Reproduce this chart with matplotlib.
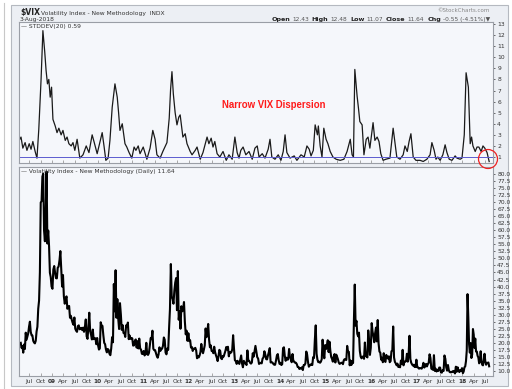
import numpy as np
import matplotlib
matplotlib.use('Agg')
import matplotlib.pyplot as plt
from matplotlib.patches import Rectangle, Ellipse

# weekly VIX closes, one list per year
vix_2008 = [20.0, 18.2, 18.9, 16.5, 19.4, 17.8, 23.6, 21.1, 22.2, 23.4, 25.8, 27.5, 23.9,
            22.7, 22.6, 20.7, 20.1, 19.8, 20.7, 24.0, 25.7, 32.1, 35.0, 45.1, 69.9, 70.3,
            79.1, 80.1, 59.9, 56.1, 66.3, 80.9, 55.3, 59.9, 54.3, 44.9, 43.4, 40.0]
vix_2009 = [39.2, 46.1, 47.3, 44.8, 43.0, 42.9, 46.7, 47.1, 49.3, 52.6, 45.9, 40.0, 44.1,
            36.5, 33.9, 35.3, 36.5, 32.1, 32.6, 33.1, 28.9, 29.6, 28.2, 27.1, 26.4, 29.0,
            25.0, 24.3, 23.9, 25.9, 26.2, 24.8, 25.0, 25.3, 24.5, 25.4, 23.9, 25.6, 28.3,
            22.3, 21.4, 25.7, 30.7, 24.2, 22.9, 21.2, 24.7, 21.3, 21.6, 21.6, 19.5, 21.7]
vix_2010 = [19.1, 17.6, 18.0, 27.3, 26.1, 26.0, 22.7, 20.0, 19.5, 17.6, 16.6, 17.8, 17.5,
            16.1, 15.6, 18.0, 22.0, 20.2, 40.9, 31.2, 45.8, 28.9, 35.5, 28.6, 24.9, 34.1,
            30.1, 24.6, 26.3, 23.5, 23.5, 22.1, 26.2, 25.7, 27.2, 21.3, 22.6, 21.4, 21.7,
            21.6, 19.0, 19.1, 20.7, 21.2, 18.3, 20.6, 18.0, 21.5, 18.0, 17.6, 16.1, 16.0]
vix_2011 = [17.1, 15.5, 16.1, 20.0, 15.9, 15.7, 16.4, 19.2, 21.7, 21.3, 24.3, 17.9, 17.4,
            17.4, 16.3, 15.3, 14.7, 15.9, 18.4, 17.1, 17.8, 17.9, 18.9, 21.9, 21.1, 16.5,
            15.9, 18.0, 17.5, 25.3, 32.0, 48.0, 36.4, 35.6, 33.9, 38.5, 41.4, 43.0, 31.6,
            45.5, 28.2, 31.3, 25.0, 33.0, 31.2, 32.0, 34.5, 27.5, 23.0, 24.3, 20.7, 23.4]
vix_2012 = [20.6, 20.9, 18.3, 18.5, 17.1, 17.9, 17.9, 18.2, 17.3, 14.5, 15.3, 14.8, 15.5,
            16.7, 19.6, 17.4, 16.3, 17.6, 19.1, 25.1, 22.0, 24.1, 26.7, 21.2, 18.4, 19.1,
            17.1, 17.1, 16.3, 18.6, 16.7, 15.6, 14.7, 13.5, 15.2, 17.5, 17.1, 14.5, 14.2,
            15.3, 15.1, 16.1, 17.1, 18.5, 17.6, 18.6, 15.2, 16.7, 16.4, 16.7, 17.7, 22.7, 18.0]
vix_2013 = [13.8, 13.5, 12.5, 13.6, 12.9, 12.5, 14.1, 15.5, 12.6, 11.3, 13.6, 12.7, 12.9,
            12.1, 17.3, 13.6, 13.6, 12.9, 12.6, 13.0, 16.3, 15.1, 17.1, 18.9, 16.9, 14.9,
            14.4, 12.5, 12.7, 12.9, 12.7, 14.4, 14.8, 17.0, 15.9, 14.2, 14.1, 15.5, 16.7,
            18.1, 13.0, 13.1, 13.0, 12.5, 12.2, 12.2, 13.7, 15.5, 16.0, 13.8, 12.5]
vix_2014 = [12.9, 12.1, 12.4, 18.1, 18.4, 15.3, 13.6, 14.7, 14.0, 14.1, 17.8, 15.0, 14.4,
            13.1, 16.0, 13.4, 13.3, 12.9, 12.9, 12.4, 11.4, 11.4, 10.7, 11.0, 10.9, 11.3,
            10.3, 12.1, 12.1, 12.7, 16.9, 15.8, 13.2, 11.5, 12.0, 12.1, 12.5, 12.1, 14.9,
            14.6, 21.2, 26.2, 16.1, 14.0, 13.1, 13.3, 12.9, 13.3, 14.2, 21.1, 16.5, 14.5, 19.2]
vix_2015 = [17.8, 19.2, 20.9, 16.7, 20.4, 17.3, 15.0, 14.3, 13.3, 15.2, 16.0, 13.0, 15.8,
            15.1, 14.2, 13.0, 12.5, 12.7, 12.9, 12.9, 12.4, 13.8, 14.2, 14.0, 13.9, 18.9,
            16.8, 16.8, 12.0, 13.7, 12.1, 13.4, 12.8, 28.0, 40.7, 26.1, 27.8, 23.2, 22.3,
            23.6, 17.1, 15.1, 14.5, 15.1, 15.0, 14.3, 20.1, 15.5, 15.1, 14.8, 24.4, 20.7,
            15.7, 18.2]
vix_2016 = [27.0, 24.0, 22.3, 20.2, 23.4, 25.4, 20.5, 28.1, 19.8, 16.9, 16.5, 14.0, 14.7,
            13.1, 16.3, 13.6, 13.2, 15.7, 14.7, 14.4, 15.2, 13.1, 13.5, 17.0, 17.3, 25.8,
            14.8, 13.2, 12.7, 12.0, 12.6, 11.4, 11.5, 11.3, 13.7, 12.5, 17.5, 12.0, 13.3,
            13.3, 13.5, 16.1, 13.3, 16.2, 22.5, 14.2, 12.9, 12.3, 11.9, 12.2, 11.4, 11.4, 14.0]
vix_2017 = [11.3, 11.2, 10.8, 11.0, 11.0, 10.8, 11.5, 12.9, 11.2, 11.7, 12.5, 11.6, 12.4,
            12.9, 15.9, 14.6, 10.8, 10.6, 10.4, 15.6, 10.0, 10.8, 9.8, 10.4, 10.0, 11.2,
            11.2, 9.5, 9.4, 10.3, 10.0, 15.5, 14.3, 11.3, 10.1, 12.1, 10.2, 9.6, 9.5,
            9.7, 9.6, 10.0, 9.8, 9.1, 11.5, 9.7, 11.3, 10.2, 9.6, 10.3, 10.0, 11.0]
vix_2018 = [9.2, 9.8, 11.3, 11.6, 13.5, 17.3, 37.3, 29.1, 19.5, 16.5, 19.9, 14.6, 15.8,
            24.9, 22.9, 18.2, 21.5, 16.9, 16.9, 15.4, 14.8, 12.7, 13.4, 17.0, 13.5, 12.2,
            12.0, 13.8, 16.1, 13.4, 12.2, 12.9, 12.8, 13.0, 11.64]
vix_by_year = [vix_2008, vix_2009, vix_2010, vix_2011, vix_2012, vix_2013,
               vix_2014, vix_2015, vix_2016, vix_2017, vix_2018]
first_year = 2008
start_frac = 0.314   # 25-Apr-2008
end_frac = 0.586     # 3-Aug-2018

# STDDEV(20) of the VIX (decimal year, value)
std_years = [2008.28, 2008.32, 2008.36, 2008.41, 2008.45, 2008.50, 2008.54, 2008.58, 2008.63,
             2008.67, 2008.71, 2008.76, 2008.80, 2008.84, 2008.87, 2008.90, 2008.93, 2008.96,
             2008.99, 2009.02, 2009.07, 2009.11, 2009.15, 2009.20, 2009.24, 2009.29, 2009.33,
             2009.37, 2009.42, 2009.46, 2009.50, 2009.55, 2009.59, 2009.61, 2009.68, 2009.75,
             2009.81, 2009.88, 2009.92, 2009.99, 2010.03, 2010.10, 2010.14, 2010.18, 2010.23,
             2010.27, 2010.32, 2010.38, 2010.43, 2010.46, 2010.49, 2010.54, 2010.57, 2010.60,
             2010.64, 2010.69, 2010.75, 2010.80, 2010.84, 2010.89, 2010.93, 2011.00, 2011.08,
             2011.15, 2011.21, 2011.26, 2011.30, 2011.37, 2011.43, 2011.52, 2011.57, 2011.60,
             2011.63, 2011.66, 2011.70, 2011.74, 2011.78, 2011.81, 2011.85, 2011.87, 2011.92,
             2011.96, 2012.03, 2012.07, 2012.14, 2012.18, 2012.25, 2012.31, 2012.40, 2012.44,
             2012.49, 2012.53, 2012.57, 2012.62, 2012.68, 2012.75, 2012.82, 2012.88, 2012.95,
             2013.01, 2013.06, 2013.10, 2013.14, 2013.19, 2013.25, 2013.32, 2013.39, 2013.45,
             2013.50, 2013.54, 2013.61, 2013.67, 2013.74, 2013.78, 2013.82, 2013.89, 2013.96,
             2014.02, 2014.07, 2014.11, 2014.15, 2014.22, 2014.31, 2014.37, 2014.46, 2014.53,
             2014.59, 2014.64, 2014.68, 2014.73, 2014.77, 2014.82, 2014.84, 2014.88, 2014.92,
             2014.96, 2015.01, 2015.05, 2015.10, 2015.16, 2015.23, 2015.32, 2015.40, 2015.47,
             2015.54, 2015.58, 2015.61, 2015.64, 2015.69, 2015.72, 2015.75, 2015.80, 2015.84,
             2015.89, 2015.93, 2015.97, 2016.04, 2016.08, 2016.13, 2016.17, 2016.21, 2016.26,
             2016.32, 2016.41, 2016.48, 2016.52, 2016.56, 2016.63, 2016.70, 2016.74, 2016.79,
             2016.83, 2016.87, 2016.92, 2016.98, 2017.07, 2017.14, 2017.22, 2017.29, 2017.33,
             2017.38, 2017.42, 2017.46, 2017.51, 2017.57, 2017.62, 2017.66, 2017.71, 2017.77,
             2017.84, 2017.88, 2017.95, 2017.99, 2018.04, 2018.08, 2018.13, 2018.17, 2018.20,
             2018.23, 2018.28, 2018.32, 2018.36, 2018.41, 2018.45, 2018.49, 2018.54, 2018.586]
std_vals = [2.5, 2.8, 1.8, 2.3, 1.6, 2.2, 1.7, 2.4, 1.5,
            0.9, 3.5, 8.0, 12.4, 10.5, 8.8, 7.6, 8.0, 6.4,
            7.3, 4.4, 3.8, 3.2, 3.6, 3.0, 3.4, 2.5, 2.8,
            2.2, 2.0, 2.3, 1.6, 2.6, 1.5, 0.9, 1.2, 2.0,
            1.4, 3.0, 2.4, 1.3, 2.0, 3.2, 2.0, 0.7, 0.9,
            2.5, 5.5, 7.6, 6.4, 5.0, 3.4, 4.0, 3.1, 2.2,
            1.9, 1.4, 0.9, 1.9, 1.6, 2.0, 1.3, 1.9, 0.8,
            1.8, 3.4, 2.6, 1.2, 0.9, 1.5, 2.3, 4.5, 7.1,
            8.7, 6.7, 5.0, 3.9, 4.6, 4.8, 3.5, 2.8, 3.1,
            2.2, 1.5, 1.2, 1.6, 1.9, 0.8, 1.4, 2.8, 2.2,
            2.7, 1.9, 2.4, 1.3, 1.0, 1.5, 0.7, 1.2, 0.8,
            2.8, 1.4, 0.9, 1.6, 1.9, 1.2, 1.5, 0.8, 1.8,
            2.0, 1.0, 1.3, 0.9, 1.7, 2.6, 1.0, 0.8, 1.2,
            0.7, 1.5, 3.0, 1.4, 0.9, 1.1, 0.7, 1.2, 1.0,
            2.0, 1.7, 1.1, 1.6, 3.9, 3.0, 3.8, 2.0, 1.0,
            3.6, 2.6, 2.2, 1.5, 1.0, 0.8, 0.7, 0.8, 1.5,
            2.6, 1.2, 1.0, 8.9, 6.5, 5.4, 4.2, 3.9, 1.2,
            2.6, 2.8, 1.8, 4.1, 2.5, 2.8, 2.4, 1.3, 0.7,
            0.8, 0.9, 3.6, 2.3, 1.0, 0.8, 1.2, 2.0, 1.5,
            2.4, 3.1, 1.0, 0.7, 0.7, 0.6, 0.8, 1.2, 2.3,
            1.6, 0.8, 1.0, 0.7, 1.2, 2.1, 1.4, 0.8, 0.7,
            1.1, 0.9, 0.8, 0.9, 3.0, 8.6, 7.3, 2.2, 2.8,
            2.0, 1.5, 1.9, 1.9, 1.5, 2.0, 1.8, 1.4, 0.59]

header_vals = [('Open', '12.43'), ('High', '12.48'), ('Low', '11.07'),
               ('Close', '11.64'), ('Chg', '-0.55 (-4.51%)\u25bc')]

# x positions for the weekly VIX points (spread evenly inside each year)
vix_x = []
for i, vals in enumerate(vix_by_year):
    y0 = first_year + i + (start_frac if i == 0 else 0.01)
    y1 = first_year + i + (end_frac if i == len(vix_by_year) - 1 else 0.99)
    vix_x.extend(np.linspace(y0, y1, len(vals)))
vix = np.concatenate(vix_by_year)

W, H = 512, 389
fig = plt.figure(figsize=(W / 100, H / 100), dpi=100)
fig.patch.set_facecolor('white')

def px(x, y):
    return x / W, 1 - y / H

panel_bg = '#f5f7fb'
edge = '#9a9ea6'
fig.add_artist(Rectangle(px(11, 386), 497 / W, 381 / H, transform=fig.transFigure,
                         facecolor='#eceff4', edgecolor='#b5b9c0', lw=0.8, zorder=-5))
fig.add_artist(plt.Line2D([4 / W, 4 / W], [0, 1 - 3 / H], transform=fig.transFigure,
                          color='#c8c8c8', lw=0.8, zorder=-5))

x0, x1 = 2008.276, 2018.67
ax1 = fig.add_axes([19 / W, 1 - 163 / H, 474 / W, 141 / H])
ax2 = fig.add_axes([19 / W, 1 - 376 / H, 474 / W, 209 / H])

qticks = [first_year + 0.5 + 0.25 * k for k in range(41)]
qlabels = []
for q in qticks:
    frac = round(q % 1, 2)
    qlabels.append({0.0: '%02d' % (int(round(q)) % 100), 0.25: 'Apr',
                    0.5: 'Jul', 0.75: 'Oct'}[frac])

for ax in (ax1, ax2):
    ax.set_facecolor(panel_bg)
    ax.set_xlim(x0, x1)
    for s in ax.spines.values():
        s.set_color(edge)
        s.set_linewidth(0.8)
    ax.yaxis.tick_right()
    ax.tick_params(axis='y', length=1.5, width=0.5, pad=1.5, labelsize=4.3,
                   colors='#333333')
    ax.tick_params(axis='x', direction='in', length=2, width=0.5, color='#888888')
    ax.set_xticks(qticks)

ax1.set_xticklabels([])
ax2.set_xticklabels(qlabels)
ax2.tick_params(axis='x', labelsize=4.2, pad=2, labelcolor='#333333')
for lab in ax2.get_xticklabels():
    if lab.get_text().isdigit():
        lab.set_fontweight('bold')

# top panel: STDDEV(20)
ax1.plot(std_years, std_vals, color='#1a1a1a', lw=0.9)
ax1.axhline(1.0, color='#5c5ccf', lw=0.7)
ax1.set_ylim(0.46, 13.18)
ax1.set_yticks(range(1, 14))
ax1.text(0.004, 0.985, '\u2014 STDDEV(20) 0.59', transform=ax1.transAxes, fontsize=4.3,
         va='top', ha='left', color='#333333')

# bottom panel: VIX
ax2.plot(vix_x, vix, color='black', lw=1.5)
ax2.set_ylim(8.2, 82.5)
ticks2 = np.arange(10, 80.1, 2.5)
ax2.set_yticks(ticks2)
ax2.set_yticklabels(['%.1f' % t for t in ticks2])
ax2.text(0.004, 0.99, '\u2014 Volatility Index - New Methodology (Daily) 11.64',
         transform=ax2.transAxes, fontsize=4.3, va='top', ha='left', color='#333333')

# header
fig.text(*px(20, 13), '$VIX', fontsize=5.5, fontweight='bold', va='center', color='#222222')
fig.text(*px(41, 13), 'Volatility Index - New Methodology  INDX', fontsize=4.3,
         va='center', color='#333333')
fig.text(*px(20, 19.5), '3-Aug-2018', fontsize=4.3, va='center', color='#333333')
fig.text(*px(490, 11), '\u00a9StockCharts.com', fontsize=4.0, va='center', ha='right',
         color='#888888')

# Open/High/Low/Close line, laid out right to left
renderer = fig.canvas.get_renderer()
xr = 490
for name, val in reversed(header_vals):
    t = fig.text(*px(xr, 19.5), val, fontsize=4.2, va='center', ha='right', color='#555555')
    w = t.get_window_extent(renderer).width
    xr -= w + 2
    t = fig.text(*px(xr, 19.5), name, fontsize=4.6, fontweight='bold', va='center',
                 ha='right', color='#222222')
    w = t.get_window_extent(renderer).width
    xr -= w + 3

fig.text(*px(274, 105), 'Narrow VIX Dispersion', color='#ff1a1a', fontsize=6.9,
         fontweight='bold', family='Liberation Sans', ha='center', va='center')

fig.add_artist(Ellipse(px(488, 159), 19 / W, 19 / H, transform=fig.transFigure,
                       fill=False, edgecolor='#ee2222', lw=0.9))

fig.savefig('out.png', dpi=100)
